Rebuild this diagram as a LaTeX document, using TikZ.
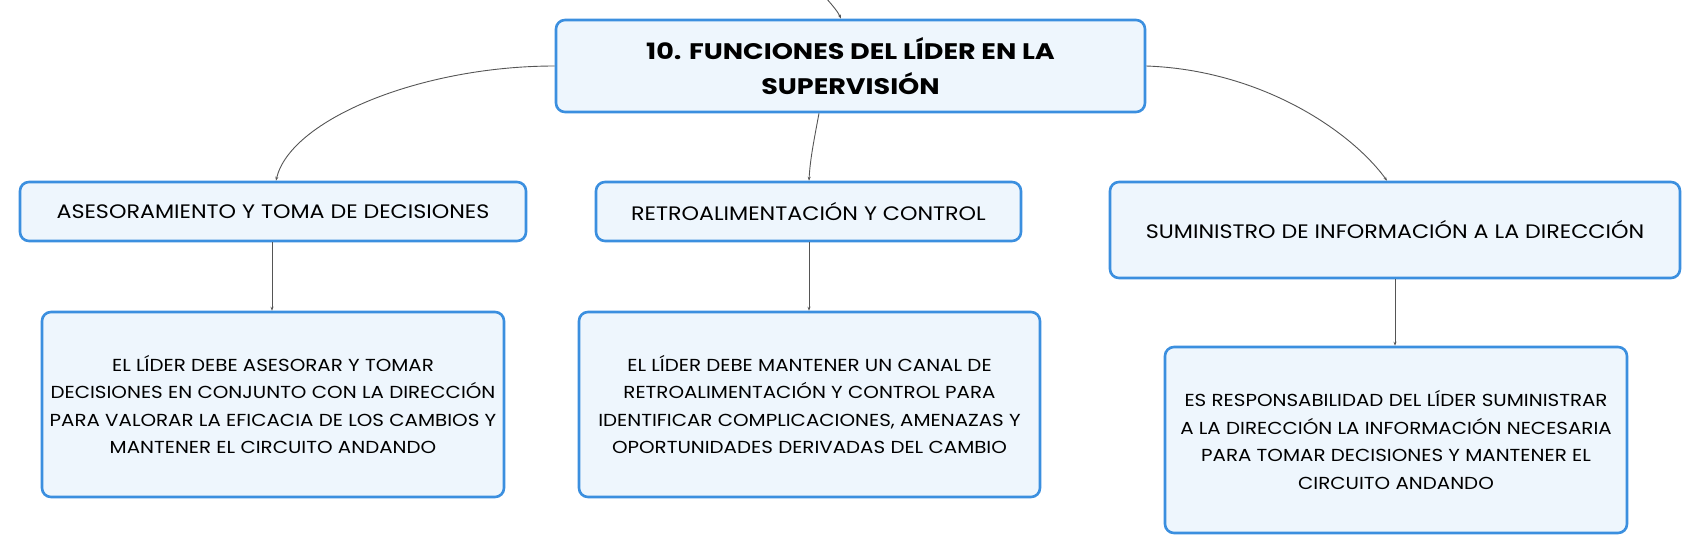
\documentclass[tikz,border=0pt]{standalone}
\usepackage{fontspec}
\setmainfont{Poppins}
\newfontfamily\boxfont[FakeStretch=1.14]{Poppins}
\newfontfamily\rootfam[FakeStretch=1.2]{Poppins}
\usetikzlibrary{arrows.meta}
\definecolor{bordercol}{HTML}{3B8FDF}
\definecolor{fillcol}{HTML}{EEF6FD}
\definecolor{linecol}{HTML}{555555}
\tikzset{
  box/.style={draw=bordercol, line width=2.6pt, fill=fillcol, rounded corners=9pt, align=center, inner sep=0pt, text=black},
  conn/.style={draw=linecol, line width=0.9pt, -{Stealth[length=4pt,width=3pt]}},
  rootfont/.style={font=\rootfam\fontsize{22.5}{35}\selectfont\bfseries},
  childfont/.style={font=\boxfont\fontsize{19.5}{22}\selectfont},
  leaffont/.style={font=\boxfont\fontsize{17.4}{27.5}\selectfont},
}
\begin{document}
\begin{tikzpicture}[x=1pt,y=-1pt]
\useasboundingbox (0,0) rectangle (1702,554);
\node[box, rootfont, minimum width=589pt, minimum height=92pt] (root) at (850.5,66) {10. FUNCIONES DEL LÍDER EN LA\\SUPERVISIÓN};
\node[box, childfont, minimum width=506pt, minimum height=59pt] (c1) at (273,211.5) {ASESORAMIENTO Y TOMA DE DECISIONES};
\node[box, childfont, minimum width=425pt, minimum height=59pt] (c2) at (808.5,211.5) {RETROALIMENTACIÓN Y CONTROL};
\node[box, childfont, minimum width=570pt, minimum height=96pt] (c3) at (1395,230) {SUMINISTRO DE INFORMACIÓN A LA DIRECCIÓN};
\node[box, leaffont, minimum width=462pt, minimum height=185pt] (l1) at (273,404.5) {EL LÍDER DEBE ASESORAR Y TOMAR\\DECISIONES EN CONJUNTO CON LA DIRECCIÓN\\PARA VALORAR LA EFICACIA DE LOS CAMBIOS Y\\MANTENER EL CIRCUITO ANDANDO};
\node[box, leaffont, minimum width=461pt, minimum height=185pt] (l2) at (809.5,404.5) {EL LÍDER DEBE MANTENER UN CANAL DE\\RETROALIMENTACIÓN Y CONTROL PARA\\IDENTIFICAR COMPLICACIONES, AMENAZAS Y\\OPORTUNIDADES DERIVADAS DEL CAMBIO};
\node[box, leaffont, minimum width=462pt, minimum height=186pt] (l3) at (1396,440) {ES RESPONSABILIDAD DEL LÍDER SUMINISTRAR\\A LA DIRECCIÓN LA INFORMACIÓN NECESARIA\\PARA TOMAR DECISIONES Y MANTENER EL\\CIRCUITO ANDANDO};
\coordinate (top) at (826,-2);
\draw[conn] (top) .. controls (833,6) and (838,12) .. (root.north -| 841,0);
\draw[conn] (root.west) .. controls (420,66) and (290,120) .. (c1.north -| 276,0);
\draw[conn] (root.south -| 819,0) .. controls (814,140) and (810,160) .. (c2.north -| 809,0);
\draw[conn] (root.east) .. controls (1260,70) and (1350,130) .. (c3.north -| 1387,0);
\draw[conn] (c1.south -| 272,0) -- (l1.north -| 272,0);
\draw[conn] (c2.south -| 809,0) -- (l2.north -| 809,0);
\draw[conn] (c3.south -| 1395,0) -- (l3.north -| 1395,0);
\end{tikzpicture}
\end{document}
